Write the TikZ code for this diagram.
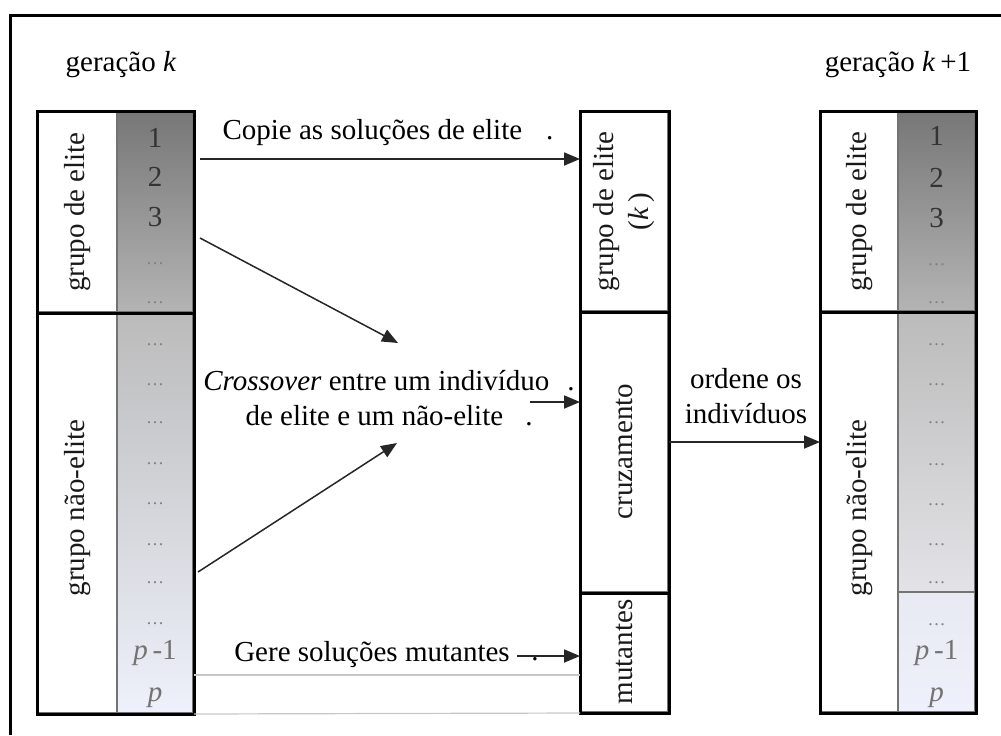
\documentclass[tikz,border=0pt]{standalone}
\usepackage{fontspec}
\setmainfont{Liberation Serif}
\usepackage{tikz}
\usetikzlibrary{arrows.meta}
\usepackage{xcolor}
\definecolor{elitetop}{HTML}{777777}
\definecolor{elitebot}{HTML}{B4B4B4}
\definecolor{nontop}{HTML}{BBBBBB}
\definecolor{nonbot}{HTML}{EEF1FB}
\definecolor{rnonbot}{HTML}{E3E3E7}
\definecolor{rlasttop}{HTML}{E7EAF2}

\begin{document}
\begin{tikzpicture}[x=0.5pt, y=-0.5pt, font=\fontsize{14.5}{17.5}\selectfont,
      colbox/.style={rectangle, inner sep=0pt, draw=black!55, line width=1pt},
      wrap/.style={draw=black, line width=1.5pt},
      rank/.style={text=black!80, inner sep=0pt},
      gap/.style={text=black!50, font=\fontsize{9}{9}\selectfont, inner sep=0pt},
      ptag/.style={text=black!55, inner sep=0pt},
      vlabel/.style={rotate=90, align=center, text=black!90},
      link/.style={-{Triangle[length=8pt,width=6.5pt]}, line width=0.9pt, black!85},
      faint/.style={draw=black!22, line width=0.6pt}]
      \useasboundingbox (0,0) rectangle (1001,735);
      \draw[line width=1.5pt] (10,735) -- (10,15) -- (1001,15);

      \node (genk) at (121,65) {geração \textit{k}};
      \node (genknext) at (898,65) {geração \textit{k}\,+1};

      \node[colbox, minimum width=39.5pt, minimum height=100pt] (lelite) at (77.5,212) {};
      \node[colbox, minimum width=38pt, minimum height=100pt, top color=elitetop, bottom color=elitebot] (lrankelite) at (155,212) {};
      \node[colbox, minimum width=39.5pt, minimum height=200.5pt] (lnon) at (77.5,512.5) {};
      \node[colbox, minimum width=38pt, minimum height=200.5pt, top color=nontop, bottom color=nonbot] (lranknon) at (155,512.5) {};
      \draw[wrap] (lelite.north west) rectangle (lranknon.south east);
      \draw[wrap] (lelite.south west) -- (lrankelite.south east);
      \node[vlabel] (lelitetxt) at (lelite) {grupo de elite};
      \node[vlabel] (lnontxt) at (77.5,508) {grupo não-elite};
      \foreach \y/\t [count=\i] in {138/1,177/2,217/3}
        \node[rank] (lr\i) at (155,\y) {\t};
      \foreach \y [count=\i] in {264,303,345,385,423,464,504,545,583,624}
        \node[gap] (lg\i) at (155,\y) {…};
      \node[ptag] (lpm) at (155,653) {\textit{p}\,-1};
      \node[ptag] (lp) at (155,698) {\textit{p}};

      \node[colbox, minimum width=43.5pt, minimum height=99.5pt] (melite) at (624.5,211.5) {};
      \node[colbox, minimum width=43.5pt, minimum height=140.5pt] (mcross) at (624.5,451.5) {};
      \node[colbox, minimum width=43.5pt, minimum height=60pt] (mmut) at (624.5,652) {};
      \draw[wrap] (melite.north west) rectangle (mmut.south east);
      \draw[wrap] (melite.south west) -- (melite.south east);
      \draw[wrap] (mcross.south west) -- (mcross.south east);
      \node[vlabel] (melitetxt) at (melite) {grupo de elite\\(\textit{k}\,)};
      \node[vlabel] (mcrosstxt) at (mcross) {cruzamento};
      \node[vlabel] (mmuttxt) at (mmut) {mutantes};

      \node[colbox, minimum width=38.5pt, minimum height=99.5pt] (relite) at (859.5,211.5) {};
      \node[colbox, minimum width=38.5pt, minimum height=99.5pt, top color=elitetop, bottom color=elitebot] (rrankelite) at (936.5,211.5) {};
      \node[colbox, minimum width=38.5pt, minimum height=200pt] (rnon) at (859.5,511.5) {};
      \node[colbox, minimum width=38.5pt, minimum height=140pt, top color=nontop, bottom color=rnonbot] (rranknon) at (936.5,451.5) {};
      \node[colbox, minimum width=38.5pt, minimum height=60pt, top color=rlasttop, bottom color=nonbot] (rranklast) at (936.5,652) {};
      \draw[wrap] (relite.north west) rectangle (rranklast.south east);
      \draw[wrap] (relite.south west) -- (rrankelite.south east);
      \node[vlabel] (relitetxt) at (relite) {grupo de elite};
      \node[vlabel] (rnontxt) at (859.5,508) {grupo não-elite};
      \foreach \y/\t [count=\i] in {136/1,178/2,218/3}
        \node[rank] (rr\i) at (936.5,\y) {\t};
      \foreach \y [count=\i] in {265,303,345,385,423,465,505,545,583,625}
        \node[gap] (rg\i) at (936.5,\y) {…};
      \node[ptag] (rpm) at (936.5,653) {\textit{p}\,-1};
      \node[ptag] (rp) at (936.5,698) {\textit{p}};

      \node (copytxt) at (388,133) {Copie as soluções de elite\hspace{12pt}.};
      \coordinate (copyfrom) at (200,159);
      \draw[link] (copyfrom) -- (copyfrom -| melite.west);

      \node[align=center] (crosstxt) at (389,398) {\textit{Crossover} entre um indivíduo\hspace{9pt}.\\de elite e um não-elite\hspace{11pt}.};
      \coordinate (elitefrom) at (200,238);
      \coordinate (elitehit) at (398,343);
      \coordinate (nonfrom) at (198,572);
      \coordinate (nonhit) at (397,443);
      \draw[link, line width=0.75pt] (elitefrom) -- (elitehit);
      \draw[link, line width=0.75pt] (nonfrom) -- (nonhit);
      \coordinate (crossfrom) at (530,402);
      \draw[link] (crossfrom) -- (crossfrom -| mcross.west);

      \node (muttxt) at (372,655) {Gere soluções mutantes};
      \node[inner sep=0pt] (mutdot) at (535,659) {.};
      \coordinate (mutfrom) at (517,656);
      \draw[link] (mutfrom) -- (mutfrom -| mmut.west);
      \coordinate (mutline) at (0,675);
      \draw[faint] (lranknon.east |- mutline) -- (mmut.west |- mutline);
      \draw[faint] (lranknon.south east) -- (mmut.south west);

      \node[align=center] (sorttxt) at (746,396) {ordene os\\indivíduos};
      \coordinate (sortfrom) at (0,442);
      \draw[link] (mcross.east |- sortfrom) -- (rnon.west |- sortfrom);
    \end{tikzpicture}
\end{document}
